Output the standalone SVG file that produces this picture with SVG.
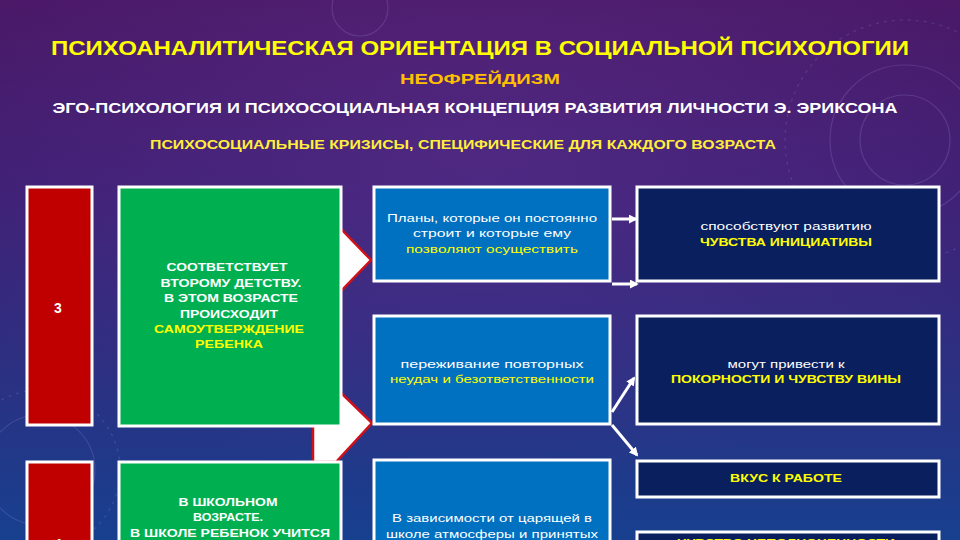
<svg xmlns="http://www.w3.org/2000/svg" width="960" height="540" viewBox="0 0 960 540">
<defs>
<linearGradient id="bg" x1="0" y1="0" x2="0" y2="1">
<stop offset="0" stop-color="#4a1866"/>
<stop offset="0.35" stop-color="#3e2074"/>
<stop offset="0.65" stop-color="#2e2e80"/>
<stop offset="1" stop-color="#17408f"/>
</linearGradient>
<radialGradient id="glow" cx="0.5" cy="0.3" r="0.6">
<stop offset="0" stop-color="#6a3aa0" stop-opacity="0.35"/>
<stop offset="1" stop-color="#6a3aa0" stop-opacity="0"/>
</radialGradient>
<marker id="ah" viewBox="0 0 10 10" refX="8" refY="5" markerWidth="3" markerHeight="3" orient="auto" markerUnits="strokeWidth">
<path d="M0,0 L10,5 L0,10 Z" fill="#ffffff"/>
</marker>
<style>
.box{stroke:#ffffff;stroke-width:3}
.red{fill:#c00000}
.green{fill:#00b050}
.blue{fill:#0070c0}
.navy{fill:#0a205e}
.t{font-family:"Liberation Sans","DejaVu Sans",sans-serif;text-anchor:middle}
.b{font-weight:bold}
.w{fill:#ffffff}
.y{fill:#ffff00}
.conn{stroke:#ffffff;stroke-width:3;fill:none;marker-end:url(#ah)}
.chev{fill:#ffffff;stroke:#d0101a;stroke-width:2.5;stroke-linejoin:miter}
.deco{fill:none;stroke:#b8a8e8;stroke-opacity:0.18;stroke-width:1.2}
</style>
</defs>
<rect width="960" height="540" fill="url(#bg)"/>
<rect width="960" height="540" fill="url(#glow)"/>
<g id="decor">
<circle class="deco" cx="905" cy="140" r="45"/>
<circle class="deco" cx="905" cy="140" r="75"/>
<circle class="deco" cx="905" cy="140" r="120" stroke-dasharray="3 5"/>
<circle class="deco" cx="360" cy="8" r="28"/>
<circle class="deco" cx="40" cy="470" r="55"/>
<circle class="deco" cx="40" cy="470" r="80" stroke-dasharray="3 5"/>
</g>

<g id="titles">
<text class="t b y" x="480" y="55" font-size="20" textLength="858" lengthAdjust="spacingAndGlyphs">ПСИХОАНАЛИТИЧЕСКАЯ ОРИЕНТАЦИЯ В СОЦИАЛЬНОЙ ПСИХОЛОГИИ</text>
<text class="t b" x="480" y="84" font-size="15" fill="#ffc000" textLength="160" lengthAdjust="spacingAndGlyphs">НЕОФРЕЙДИЗМ</text>
<text class="t b w" x="475" y="113" font-size="14.5" textLength="845" lengthAdjust="spacingAndGlyphs">ЭГО-ПСИХОЛОГИЯ И ПСИХОСОЦИАЛЬНАЯ КОНЦЕПЦИЯ РАЗВИТИЯ ЛИЧНОСТИ Э. ЭРИКСОНА</text>
<text class="t b" x="463" y="149" font-size="12.5" fill="#ffef3a" textLength="626" lengthAdjust="spacingAndGlyphs">ПСИХОСОЦИАЛЬНЫЕ КРИЗИСЫ, СПЕЦИФИЧЕСКИЕ ДЛЯ КАЖДОГО ВОЗРАСТА</text>
</g>

<g id="connectors">
<polygon class="chev" points="320,229 341,229 371,260 341,291 320,291"/>
<polygon class="chev" points="313,380 338,380 338,390 372,423 336,462 313,462"/>
<line class="conn" x1="612" y1="219" x2="636" y2="219"/>
<line class="conn" x1="612" y1="284" x2="637" y2="284"/>
<line class="conn" x1="612" y1="412" x2="634" y2="378"/>
<line class="conn" x1="612" y1="425" x2="637" y2="455"/>
</g>

<g id="age3">
<rect class="box red" x="27" y="187" width="65" height="238"/>
<text class="t b w" x="58" y="313" font-size="14">3</text>
</g>

<g id="desc3">
<rect class="box green" x="119" y="187" width="222" height="239"/>
<text class="t b w" x="227" y="271" font-size="11" textLength="121" lengthAdjust="spacingAndGlyphs">СООТВЕТСТВУЕТ</text>
<text class="t b w" x="231" y="287" font-size="11" textLength="141" lengthAdjust="spacingAndGlyphs">ВТОРОМУ ДЕТСТВУ.</text>
<text class="t b w" x="231" y="302" font-size="11" textLength="134" lengthAdjust="spacingAndGlyphs">В ЭТОМ ВОЗРАСТЕ</text>
<text class="t b w" x="229" y="318" font-size="11" textLength="98" lengthAdjust="spacingAndGlyphs">ПРОИСХОДИТ</text>
<text class="t b y" x="229" y="333" font-size="11" textLength="150" lengthAdjust="spacingAndGlyphs">САМОУТВЕРЖДЕНИЕ</text>
<text class="t b y" x="229" y="348" font-size="11" textLength="68" lengthAdjust="spacingAndGlyphs">РЕБЕНКА</text>
</g>

<g id="plans">
<rect class="box blue" x="374" y="187" width="236" height="94"/>
<text class="t w" x="492" y="222" font-size="11.5" textLength="210" lengthAdjust="spacingAndGlyphs">Планы, которые он постоянно</text>
<text class="t w" x="492" y="237" font-size="11.5" textLength="158" lengthAdjust="spacingAndGlyphs">строит и которые ему</text>
<text class="t y" x="492" y="253" font-size="11.5" textLength="172" lengthAdjust="spacingAndGlyphs">позволяют осуществить</text>
</g>

<g id="initiative">
<rect class="box navy" x="637" y="187" width="302" height="94"/>
<text class="t w" x="786" y="230" font-size="11.5" textLength="171" lengthAdjust="spacingAndGlyphs">способствуют развитию</text>
<text class="t b y" x="786" y="246" font-size="11.5" textLength="172" lengthAdjust="spacingAndGlyphs">ЧУВСТВА ИНИЦИАТИВЫ</text>
</g>

<g id="failures">
<rect class="box blue" x="374" y="316" width="236" height="108"/>
<text class="t w" x="492" y="368" font-size="11.5" textLength="183" lengthAdjust="spacingAndGlyphs">переживание повторных</text>
<text class="t y" x="492" y="383" font-size="11.5" textLength="204" lengthAdjust="spacingAndGlyphs">неудач и безответственности</text>
</g>

<g id="guilt">
<rect class="box navy" x="637" y="316" width="302" height="108"/>
<text class="t w" x="786" y="368" font-size="11.5" textLength="117" lengthAdjust="spacingAndGlyphs">могут привести к</text>
<text class="t b y" x="786" y="383" font-size="11.5" textLength="230" lengthAdjust="spacingAndGlyphs">ПОКОРНОСТИ И ЧУВСТВУ ВИНЫ</text>
</g>

<g id="age4">
<rect class="box red" x="27" y="462" width="65" height="90"/>
<text class="t b w" x="58" y="549" font-size="14">4</text>
</g>

<g id="desc4">
<rect class="box green" x="119" y="462" width="222" height="90"/>
<text class="t b w" x="228" y="506" font-size="11" textLength="99" lengthAdjust="spacingAndGlyphs">В ШКОЛЬНОМ</text>
<text class="t b w" x="228" y="521" font-size="11" textLength="70" lengthAdjust="spacingAndGlyphs">ВОЗРАСТЕ.</text>
<text class="t b w" x="230" y="537" font-size="11" textLength="200" lengthAdjust="spacingAndGlyphs">В ШКОЛЕ РЕБЕНОК УЧИТСЯ</text>
</g>

<g id="school">
<rect class="box blue" x="374" y="460" width="236" height="90"/>
<text class="t w" x="492" y="522" font-size="11.5" textLength="200" lengthAdjust="spacingAndGlyphs">В зависимости от царящей в</text>
<text class="t w" x="492" y="538" font-size="11.5" textLength="212" lengthAdjust="spacingAndGlyphs">школе атмосферы и принятых</text>
</g>

<g id="work">
<rect class="box navy" x="637" y="461" width="302" height="36"/>
<text class="t b y" x="786" y="482" font-size="11.5" textLength="112" lengthAdjust="spacingAndGlyphs">ВКУС К РАБОТЕ</text>
</g>

<g id="inferiority">
<rect class="box navy" x="637" y="532" width="302" height="30"/>
<text class="t b y" x="786" y="547" font-size="11.5" textLength="218" lengthAdjust="spacingAndGlyphs">ЧУВСТВО НЕПОЛНОЦЕННОСТИ</text>
</g>
</svg>
